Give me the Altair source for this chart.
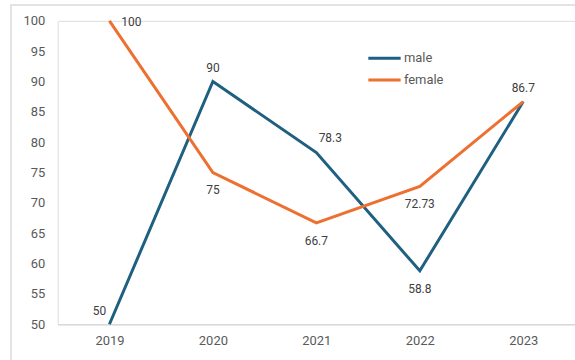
import altair as alt
import pandas as pd

years = ["2019", "2020", "2021", "2022", "2023"]
male = [50, 90, 78.3, 58.8, 86.7]
female = [100, 75, 66.7, 72.73, 86.7]
male_labels = ["50", "90", "78.3", "58.8", "86.7"]
female_labels = ["100", "75", "66.7", "72.73", ""]
male_pos = ["upleft", "top", "topright", "bottom", "top"]
female_pos = ["right", "bottom", "bottom", "bottom", "none"]
series_names = ["male", "female"]
colors = ["#1f5f80", "#ed7031"]

rows = []
for i, yr in enumerate(years):
    rows.append(dict(year=yr, series="male", value=male[i], label=male_labels[i], pos=male_pos[i]))
    rows.append(dict(year=yr, series="female", value=female[i], label=female_labels[i], pos=female_pos[i]))
df = pd.DataFrame(rows)

FONT = "Roboto"
x = alt.X("year:N", sort=years,
          scale=alt.Scale(type="point", padding=0.5),
          axis=alt.Axis(title=None, labelAngle=0, ticks=False, domainColor="#d9d9d9",
                        domainWidth=1.5, labelPadding=10, labelFontSize=13,
                        labelColor="#595959", labelFont=FONT))
y = alt.Y("value:Q",
          scale=alt.Scale(domain=[50, 100], nice=False, zero=False),
          axis=alt.Axis(title=None, values=list(range(50, 101, 5)), domain=False,
                        ticks=False, grid=False, labelPadding=13, labelFontSize=13,
                        labelColor="#595959", labelFont=FONT))
color = alt.Color("series:N",
                  scale=alt.Scale(domain=series_names, range=colors),
                  legend=alt.Legend(title=None, orient="none", legendX=314, legendY=23,
                                    symbolType="M-1.25,0H1.25", symbolSize=676,
                                    symbolStrokeWidth=3, labelOffset=5, rowPadding=0,
                                    labelFontSize=13, labelColor="#595959", labelFont=FONT))

base = alt.Chart(df)

border = alt.Chart(pd.DataFrame({"a": [0]})).mark_rect(
    filled=False, stroke="#e3e3e3", strokeWidth=2
).encode(x=alt.value(-47), y=alt.value(-16), x2=alt.value(600), y2=alt.value(420))

lines = base.mark_line(strokeWidth=3).encode(x=x, y=y, color=color, detail="series:N")

placements = {
    "upleft": dict(dx=-10, dy=-13, align="center", baseline="middle"),
    "top": dict(dx=0, dy=-14, align="center", baseline="middle"),
    "topright": dict(dx=14, dy=-15, align="center", baseline="middle"),
    "bottom": dict(dx=0, dy=18, align="center", baseline="middle"),
    "right": dict(dx=12, dy=1, align="left", baseline="middle"),
}
text_layers = []
for p, kw in placements.items():
    text_layers.append(
        base.transform_filter(alt.datum.pos == p)
        .mark_text(fontSize=12, color="#404040", font=FONT, **kw)
        .encode(x=x, y=y, text="label:N")
    )

chart = alt.layer(border, lines, *text_layers).properties(
    width=520, height=305,
    autosize=alt.AutoSizeParams(type="none"),
    padding={"left": 58, "top": 20, "right": 0, "bottom": 35},
).configure_view(stroke=None).configure(background="white")

chart.save("out.html", embed_options={"renderer": "svg", "actions": False})
